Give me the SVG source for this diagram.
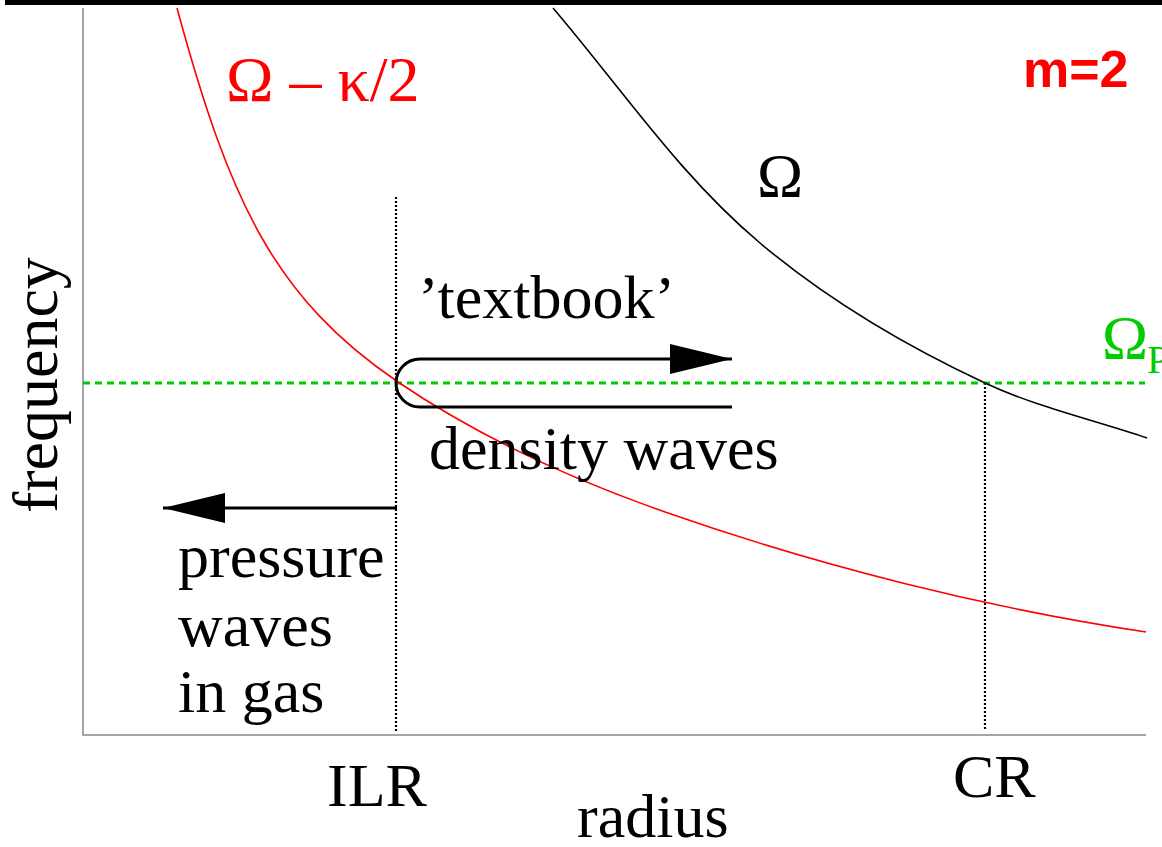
<svg xmlns="http://www.w3.org/2000/svg" width="1162" height="847" viewBox="0 0 1162 847">
<style>
.t{font-family:"Liberation Serif","Times New Roman",serif;font-size:62px;fill:#000}
.red{fill:#ff0000}
.grn{fill:#00cc00}
.dot{stroke:#000;stroke-width:2.2;stroke-dasharray:2 2;fill:none}
.ax{stroke:#888;stroke-width:1.5;fill:none}
.arr{stroke:#000;stroke-width:3;fill:none}
</style>
<defs>
<marker id="ah" viewBox="0 0 62 30" refX="62" refY="15" markerWidth="62" markerHeight="30" markerUnits="userSpaceOnUse" orient="auto">
<path d="M0 0 L62 15 L0 30 Z" fill="#000"/>
</marker>
</defs>
<rect x="5" y="0" width="1157" height="5" fill="#000"/>
<g id="axes">
<path class="ax" d="M83 8 V735 H1146"/>
</g>
<g id="guides">
<line class="dot" x1="396" y1="197" x2="396" y2="731"/>
<line class="dot" x1="985" y1="383" x2="985" y2="731"/>
<line x1="83" y1="383" x2="1145" y2="383" stroke="#00cc00" stroke-width="3" stroke-dasharray="7 5"/>
</g>
<g id="curves" fill="none" stroke-width="1.6">
<path id="omega-kappa" stroke="#ff0000" d="M177 8 C229.4 201 274 297.7 398 382 C480.7 438.2 573.6 480 668 513 C819 565.8 987.8 608.3 1146 632"/>
<path id="omega" stroke="#000" d="M553 8 C621.1 87.9 679.6 175.5 760 243 C828.9 300.9 903.5 344.9 985 383 C1036.6 407.1 1093 419.6 1147 438"/>
</g>
<g id="connectors">
<path class="arr" d="M732 407 H420 A24 24 0 0 1 420 359 H732" marker-end="url(#ah)"/>
<path class="arr" d="M397 508 H163" marker-end="url(#ah)"/>
</g>
<g id="labels">
<text class="t red" x="226" y="101" style="font-size:64px">Ω – κ/2</text>
<text x="1023" y="87" style="font-family:'Liberation Sans',Arial,sans-serif;font-weight:bold;font-size:52px" fill="#ff0000">m=2</text>
<text class="t" x="757" y="196">Ω</text>
<text class="t" x="418" y="318">’textbook’</text>
<text class="t" x="429" y="469">density waves</text>
<text class="t" x="178" y="577">pressure</text>
<text class="t" x="178" y="646">waves</text>
<text class="t" x="178" y="712">in gas</text>
<text class="t" x="327" y="806">ILR</text>
<text class="t" x="953" y="797">CR</text>
<text class="t" x="577" y="837">radius</text>
<text class="t" transform="translate(57,513) rotate(-90)" style="font-size:64px">frequency</text>
<text class="t grn" x="1102" y="358">Ω<tspan x="1147" y="373" style="font-size:40px">P</tspan></text>
</g>
</svg>
